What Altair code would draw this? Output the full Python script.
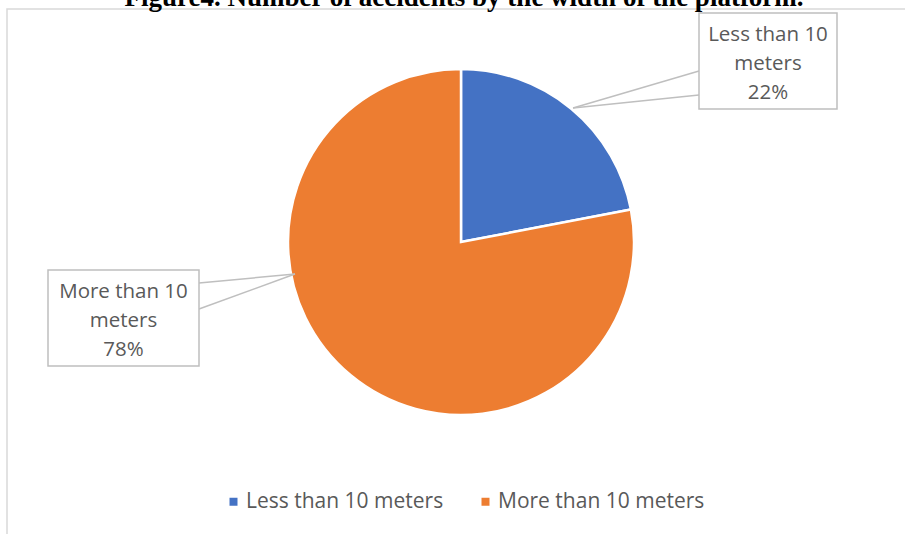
import altair as alt
import pandas as pd

# ---- data ----
categories = ["Less than 10 meters", "More than 10 meters"]
shares = [22, 78]
colors = ["#4472C4", "#ED7D31"]
title_text = "Figure4. Number of accidents by the width of the platform."

total = sum(shares)
def wrap_label(name, value):
    head, tail = name.rsplit(" ", 1)
    return f"{head}\n{tail}\n{round(100 * value / total)}%"

pie_df = pd.DataFrame({"category": categories, "share": shares})

# ---- annotation layout (pixels) ----
CX, CY, R = 461, 242, 173
boxes = {
    # category: (x0, y0, x1, y1, anchor_x, anchor_y, edge_x, edge_y_top, edge_y_bot, text_y)
    "Less than 10 meters": (699, 13, 837, 109, 573, 108, 699, 71, 95, 35),
    "More than 10 meters": (48, 270, 199, 366, 295, 274, 199, 283, 309, 292),
}
box_rows, line_rows, text_rows = [], [], []
for cat, val in zip(categories, shares):
    x0, y0, x1, y1, ax, ay, ex, ey1, ey2, ty = boxes[cat]
    box_rows.append({"x": x0, "y": y0, "x2": x1, "y2": y1})
    line_rows.append({"x": ax, "y": ay, "x2": ex, "y2": ey1})
    line_rows.append({"x": ax, "y": ay, "x2": ex, "y2": ey2})
    text_rows.append({"x": (x0 + x1) / 2, "y": ty, "label": wrap_label(cat, val)})
box_df = pd.DataFrame(box_rows)
line_df = pd.DataFrame(line_rows)
text_df = pd.DataFrame(text_rows)

FONT = "Open Sans"
TXT = "#595959"

frame = alt.Chart(pd.DataFrame({"a": [0]})).mark_rect(
    fill="white", stroke="#D9D9D9", strokeWidth=1.5
).encode(x=alt.value(7), y=alt.value(9), x2=alt.value(960), y2=alt.value(600))

title = alt.Chart(pd.DataFrame({"t": [title_text]})).mark_text(
    font="Liberation Serif", fontWeight="bold", fontSize=27, color="#000000",
    align="center", baseline="alphabetic"
).encode(x=alt.value(464), y=alt.value(6), text="t:N")

pie = alt.Chart(pie_df).mark_arc(
    outerRadius=R, stroke="white", strokeWidth=2.5
).encode(
    theta=alt.Theta("share:Q", stack=True),
    color=alt.Color(
        "category:N",
        scale=alt.Scale(domain=categories, range=colors),
        legend=alt.Legend(
            title=None, orient="none", legendX=223, legendY=491,
            direction="horizontal", symbolType="square", symbolSize=64,
            symbolStrokeWidth=0, labelFont=FONT, labelFontSize=21,
            labelColor=TXT, labelOffset=2, columnPadding=31, padding=0,
            labelLimit=400,
        ),
    ),
    order=alt.Order("category:N"),
    x=alt.value(CX), y=alt.value(CY),
)

lines = alt.Chart(line_df).mark_rule(color="#BFBFBF", strokeWidth=1.5).encode(
    x=alt.X("x:Q", scale=None), y=alt.Y("y:Q", scale=None),
    x2="x2:Q", y2="y2:Q",
)

rects = alt.Chart(box_df).mark_rect(fill="white", stroke="#BFBFBF", strokeWidth=1.5).encode(
    x=alt.X("x:Q", scale=None), y=alt.Y("y:Q", scale=None),
    x2="x2:Q", y2="y2:Q",
)

texts = alt.Chart(text_df).mark_text(
    font=FONT, fontSize=20.5, color=TXT, align="center", baseline="middle",
    lineBreak="\n", lineHeight=29,
).encode(
    x=alt.X("x:Q", scale=None), y=alt.Y("y:Q", scale=None), text="label:N",
)

chart = alt.layer(frame, title, pie, lines, rects, texts).properties(
    width=905, height=534, padding=0, autosize="none", background="white"
).configure_view(stroke=None)

chart.save("out.html", embed_options={"renderer": "svg", "actions": False})
